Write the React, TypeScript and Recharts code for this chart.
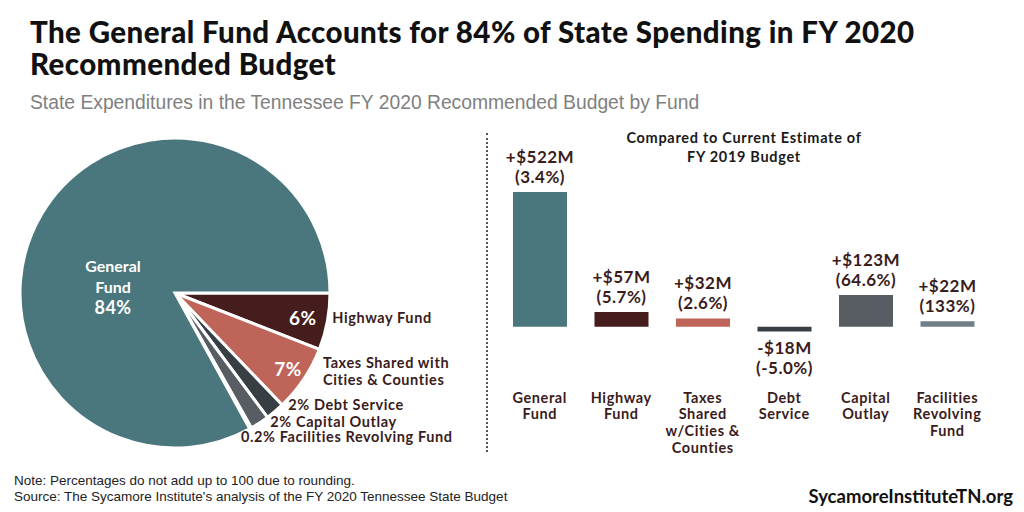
import React from 'react';
import { PieChart, Pie, Cell, BarChart, Bar, XAxis, YAxis, LabelList } from 'recharts';

// ---------- Pie data ----------
const pieNames = ['Highway Fund', 'Taxes Shared with Cities & Counties', 'Debt Service', 'Capital Outlay', 'Facilities Revolving Fund', 'General Fund'];
const pieShares = [6, 7, 2, 2, 0.2, 84];
const pieShareLabels = ['6%', '7%', '2%', '2%', '0.2%', '84%'];
const pieColors = ['#451D1C', '#BF6459', '#373E44', '#575D63', '#6F7E87', '#4A777D'];

// ---------- Bar data ----------
const barCategories = ['General Fund', 'Highway Fund', 'Taxes Shared w/Cities & Counties', 'Debt Service', 'Capital Outlay', 'Facilities Revolving Fund'];
const barTickLines = [
  ['General', 'Fund'],
  ['Highway', 'Fund'],
  ['Taxes', 'Shared', 'w/Cities &', 'Counties'],
  ['Debt', 'Service'],
  ['Capital', 'Outlay'],
  ['Facilities', 'Revolving', 'Fund'],
];
const barChanges = [522, 57, 32, -18, 123, 22];
const barChangeLabels = ['+$522M', '+$57M', '+$32M', '-$18M', '+$123M', '+$22M'];
const barPctLabels = ['(3.4%)', '(5.7%)', '(2.6%)', '(-5.0%)', '(64.6%)', '(133%)'];
const barColors = ['#4A777D', '#451D1C', '#BF6459', '#373E44', '#575D63', '#6F7E87'];

const pieData = pieNames.map((name, i) => ({ name, value: pieShares[i], idx: i }));
const barData = barCategories.map((name, i) => ({ name, change: barChanges[i], idx: i }));

const DARK = '#3A1C1C';
const FONT = 'Lato, "Open Sans", sans-serif';
const RAD = Math.PI / 180;

// label nudges (style only)
const outerNudge = [
  { dx: 0, dy: -5 },
  { dx: 15, dy: -19 },
  { dx: 10, dy: -11 },
  { dx: 8, dy: -6 },
  { dx: -12, dy: 4 },
];

const renderPieLabel = (props: any) => {
  const { cx, cy, midAngle, outerRadius, index } = props;
  const i = index;
  const pt = (r: number) => ({
    x: cx + r * Math.cos(-midAngle * RAD),
    y: cy + r * Math.sin(-midAngle * RAD),
  });
  if (i === 5) {
    const p = pt(72);
    return (
      <g>
        <text x={p.x} y={p.y + 9} textAnchor="middle" dominantBaseline="central" fill="#fff" fontWeight={700} fontSize={16} fontFamily={FONT}>General</text>
        <text x={p.x} y={p.y + 30} textAnchor="middle" dominantBaseline="central" fill="#fff" fontWeight={700} fontSize={16} fontFamily={FONT}>Fund</text>
        <text x={p.x} y={p.y + 51} textAnchor="middle" dominantBaseline="central" fill="#fff" fontWeight={700} fontSize={18} fontFamily={FONT} letterSpacing={0.5}>{pieShareLabels[i]}</text>
      </g>
    );
  }
  const o = pt(outerRadius + 5);
  const n = outerNudge[i];
  if (i <= 1) {
    const inner = pt(i === 0 ? 130 : 136);
    const lines = i === 0 ? ['Highway Fund'] : ['Taxes Shared with', 'Cities & Counties'];
    return (
      <g>
        <text x={inner.x} y={inner.y} textAnchor="middle" dominantBaseline="central" fill="#fff" fontWeight={700} fontSize={19} fontFamily={FONT} letterSpacing={0.5}>{pieShareLabels[i]}</text>
        {lines.map((l, k) => (
          <text key={k} x={o.x + n.dx} y={o.y + n.dy + k * 16.5} textAnchor="start" dominantBaseline="central" fill={DARK} fontWeight={700} fontSize={14.5} fontFamily={FONT} letterSpacing={0.6}>{l}</text>
        ))}
      </g>
    );
  }
  return (
    <text x={o.x + n.dx} y={o.y + n.dy} textAnchor="start" dominantBaseline="central" fill={DARK} fontWeight={700} fontSize={14.5} fontFamily={FONT} letterSpacing={0.6}>
      {pieShareLabels[i] + ' ' + pieNames[i]}
    </text>
  );
};

const renderBarLabel = (props: any) => {
  const { x, y, width, height, value } = props;
  let i = props.index;
  if (i === undefined || i === null) i = barChanges.indexOf(value);
  const top = Math.min(y, y + height);
  const bottom = Math.max(y, y + height);
  const cxp = x + width / 2;
  const neg = barChanges[i] < 0;
  const y1 = neg ? bottom + 16 : top - 36;
  const y2 = neg ? bottom + 36 : top - 16;
  return (
    <g>
      <text x={cxp} y={y1} textAnchor="middle" dominantBaseline="central" fill={DARK} fontWeight={700} fontSize={17} fontFamily={FONT} letterSpacing={0.5}>{barChangeLabels[i]}</text>
      <text x={cxp} y={y2} textAnchor="middle" dominantBaseline="central" fill={DARK} fontWeight={700} fontSize={17} fontFamily={FONT} letterSpacing={0.5}>{barPctLabels[i]}</text>
    </g>
  );
};

const renderTick = (props: any) => {
  const { x, y, payload } = props;
  const i = barCategories.indexOf(payload.value);
  const lines = barTickLines[i] || [];
  return (
    <g>
      {lines.map((l, k) => (
        <text key={k} x={x} y={y + 16 + k * 16.7} textAnchor="middle" dominantBaseline="central" fill={DARK} fontWeight={700} fontSize={14.5} fontFamily={FONT} letterSpacing={0.6}>{l}</text>
      ))}
    </g>
  );
};

export default function App() {
  return (
    <div style={{ position: 'absolute', left: 0, top: 0, width: 1024, height: 512, background: '#fff', overflow: 'hidden', fontFamily: FONT }}>
      <div style={{ position: 'absolute', left: 30, top: 16, fontSize: 29.5, lineHeight: '32px', fontWeight: 900, color: '#111', letterSpacing: 0.4, whiteSpace: 'nowrap' }}>
        <div>The General Fund Accounts for 84% of State Spending in FY 2020</div>
        <div>Recommended Budget</div>
      </div>
      <div style={{ position: 'absolute', left: 30, top: 91, fontSize: 19.3, lineHeight: '24px', color: '#808080', fontFamily: '"Liberation Sans", Arial, sans-serif', whiteSpace: 'nowrap' }}>
        State Expenditures in the Tennessee FY 2020 Recommended Budget by Fund
      </div>

      <div style={{ position: 'absolute', left: 0, top: 120 }}>
        <PieChart width={480} height={340}>
          <Pie
            data={pieData}
            dataKey="value"
            nameKey="name"
            cx={170}
            cy={168}
            outerRadius={155}
            startAngle={0}
            endAngle={-360}
            stroke="#fff"
            strokeWidth={3}
            isAnimationActive={false}
            labelLine={false}
            label={renderPieLabel}
          >
            {pieData.map((d, i) => (
              <Cell key={i} fill={pieColors[i]} />
            ))}
          </Pie>
        </PieChart>
      </div>

      <div style={{ position: 'absolute', left: 486, top: 133, height: 319, borderLeft: '2px dotted #555' }} />

      <div style={{ position: 'absolute', left: 594, top: 128, width: 300, textAlign: 'center', fontSize: 14.5, lineHeight: '19px', fontWeight: 700, color: '#1a1a1a', letterSpacing: 0.7 }}>
        <div>Compared to Current Estimate of</div>
        <div>FY 2019 Budget</div>
      </div>

      <div style={{ position: 'absolute', left: 487, top: 120 }}>
        <BarChart width={537} height={340} data={barData} margin={{ top: 21, right: 36, bottom: 0, left: 12 }}>
          <YAxis hide domain={[-210, 720]} type="number" allowDataOverflow />
          <XAxis dataKey="name" axisLine={false} tickLine={false} tickSize={0} tickMargin={0} interval={0} height={79} tick={renderTick} />
          <Bar dataKey="change" barSize={54} isAnimationActive={false}>
            {barData.map((d, i) => (
              <Cell key={i} fill={barColors[i]} />
            ))}
            <LabelList dataKey="change" content={renderBarLabel} />
          </Bar>
        </BarChart>
      </div>

      <div style={{ position: 'absolute', left: 14, top: 473, fontSize: 13.5, lineHeight: '16px', color: '#222', fontFamily: '"Liberation Sans", Arial, sans-serif', whiteSpace: 'nowrap' }}>
        <div>Note: Percentages do not add up to 100 due to rounding.</div>
        <div>Source: The Sycamore Institute's analysis of the FY 2020 Tennessee State Budget</div>
      </div>
      <div style={{ position: 'absolute', right: 11, top: 485, fontSize: 18.5, fontWeight: 700, color: '#111', whiteSpace: 'nowrap', letterSpacing: 0 }}>
        SycamoreInstituteTN.org
      </div>
    </div>
  );
}
